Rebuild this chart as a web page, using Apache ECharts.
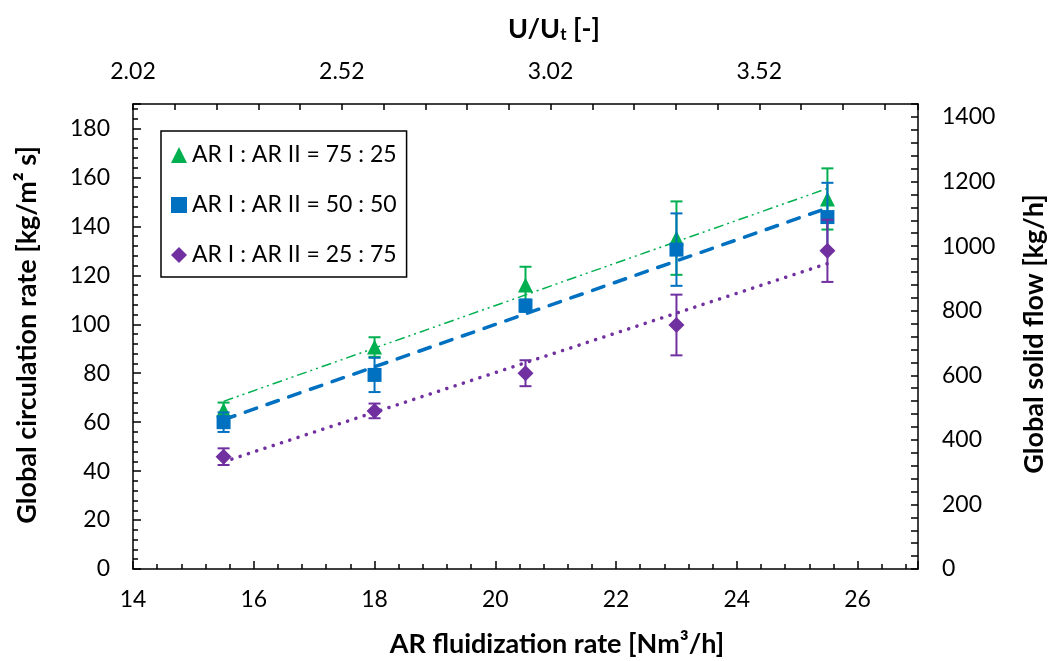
<!DOCTYPE html>
<html>
<head>
<meta charset="utf-8">
<script src="https://cdn.jsdelivr.net/npm/echarts@6/dist/echarts.min.js"></script>
<style>
  html, body { margin: 0; padding: 0; background: #fff; }
  #chart { width: 1056px; height: 661px; }
</style>
</head>
<body>
<div id="chart"></div>
<script>
// AR fluidization rate [Nm3/h] at which each point was measured
const flowRate = [15.5, 18, 20.5, 23, 25.5];

// Global circulation rate [kg/m2 s] and its error for each AR I : AR II ratio
const rate7525 = [65, 90.7, 116, 135.2, 151.2];
const err7525  = [3, 4, 7.5, 15, 12.5];
const rate5050 = [60, 79.3, 107.6, 130.5, 143.8];
const err5050  = [4, 7, 2.5, 14.8, 14];
const rate2575 = [45.9, 64.6, 80, 99.7, 130];
const err2575  = [3.4, 3, 5.3, 12.4, 12.7];

// Linear trend lines (start / end values at the first and last flow rate)
const trendX    = [15.5, 25.5];
const trend7525 = [68.5, 155.5];
const trend5050 = [61, 147.5];
const trend2575 = [43.8, 124.8];

// Series names
const seriesNames = ['AR I : AR II = 75 : 25', 'AR I : AR II = 50 : 50', 'AR I : AR II = 25 : 75'];

// Axis ranges
const flowMin = 14, flowMax = 27;
const rateMin = 0, rateMax = 190;
const solidMin = 0, solidMax = 1440;
const ratioStart = 2.02, ratioEnd = 3.90; // U/Ut at the left and right edge

const FONT = 'Lato';
const TITLE_FONT = 'bold 27px ' + FONT;
const green = '#00B050', blue = '#0070C0', purple = '#7030A0';

const chart = echarts.init(document.getElementById('chart'), null, { renderer: 'canvas' });

function pairs(xs, ys) { return xs.map((x, i) => [x, ys[i]]); }
function errData(ys, es) { return flowRate.map((x, i) => [x, ys[i] - es[i], ys[i] + es[i]]); }

function errorBars(name, color, ys, es, z) {
  return {
    type: 'custom',
    name: name + ' error',
    xAxisIndex: 0, yAxisIndex: 0,
    z: z,
    silent: true,
    data: errData(ys, es),
    renderItem: function (params, api) {
      const x = api.value(0);
      const lo = api.coord([x, api.value(1)]);
      const hi = api.coord([x, api.value(2)]);
      const cap = 6;
      const style = { stroke: color, lineWidth: 2, fill: null };
      return {
        type: 'group',
        children: [
          { type: 'line', shape: { x1: lo[0], y1: lo[1], x2: hi[0], y2: hi[1] }, style: style },
          { type: 'line', shape: { x1: lo[0] - cap, y1: lo[1], x2: lo[0] + cap, y2: lo[1] }, style: style },
          { type: 'line', shape: { x1: hi[0] - cap, y1: hi[1], x2: hi[0] + cap, y2: hi[1] }, style: style }
        ]
      };
    }
  };
}

function trend(color, ys, lineStyle) {
  return {
    type: 'line',
    xAxisIndex: 0, yAxisIndex: 0,
    data: pairs(trendX, ys),
    symbol: 'none',
    silent: true,
    z: 2,
    lineStyle: Object.assign({ color: color }, lineStyle)
  };
}

function markers(name, color, ys, symbol, size, z) {
  return {
    type: 'scatter',
    name: name,
    xAxisIndex: 0, yAxisIndex: 0,
    data: pairs(flowRate, ys),
    symbol: symbol,
    symbolSize: size,
    z: z,
    itemStyle: { color: color, opacity: 1 }
  };
}

const axisLineStyle = { show: true, onZero: false, lineStyle: { color: '#000', width: 1.5 } };
const labelStyle = { color: '#000', fontFamily: FONT, fontSize: 23 };

const option = {
  animation: false,
  backgroundColor: '#fff',
  grid: { left: 133, right: 138, top: 104, bottom: 92, containLabel: false },
  xAxis: [
    { // bottom: AR fluidization rate, major ticks
      type: 'value', position: 'bottom', min: flowMin, max: flowMax, interval: 2,
      axisLine: axisLineStyle,
      axisTick: { show: true, inside: true, length: 8, lineStyle: { color: '#000', width: 1.5 } },
      axisLabel: Object.assign({ margin: 19, formatter: v => (v % 2 === 0 ? String(v) : '') }, labelStyle),
      splitLine: { show: false }
    },
    { // top: U/Ut, offset from the left-edge value
      type: 'value', position: 'top', min: 0, max: +(ratioEnd - ratioStart).toFixed(2), interval: 0.1,
      axisLine: axisLineStyle,
      axisTick: { show: true, inside: true, length: 6, lineStyle: { color: '#000', width: 1.5 } },
      axisLabel: Object.assign({
        margin: 21,
        formatter: v => (Math.round(v * 10) % 5 === 0 ? (v + ratioStart).toFixed(2) : '')
      }, labelStyle),
      splitLine: { show: false }
    },
    { // bottom minor ticks
      type: 'value', position: 'bottom', min: flowMin, max: flowMax, interval: 0.4,
      axisLine: { show: false },
      axisTick: { show: true, inside: true, length: 5, lineStyle: { color: '#000', width: 1.5 } },
      axisLabel: { show: false },
      splitLine: { show: false }
    }
  ],
  yAxis: [
    { // left: global circulation rate, major ticks
      type: 'value', position: 'left', min: rateMin, max: rateMax, interval: 20,
      axisLine: axisLineStyle,
      axisTick: { show: true, inside: true, length: 8, lineStyle: { color: '#000', width: 1.5 } },
      axisLabel: Object.assign({ margin: 23, formatter: v => (v % 20 === 0 ? String(v) : '') }, labelStyle),
      splitLine: { show: false }
    },
    { // right: global solid flow
      type: 'value', position: 'right', min: solidMin, max: solidMax, interval: 40,
      axisLine: axisLineStyle,
      axisTick: { show: true, inside: true, length: 7, lineStyle: { color: '#000', width: 1.5 } },
      axisLabel: Object.assign({ margin: 24, formatter: v => (v % 200 === 0 ? String(v) : '') }, labelStyle),
      splitLine: { show: false }
    },
    { // left minor ticks
      type: 'value', position: 'left', min: rateMin, max: rateMax, interval: 4,
      axisLine: { show: false },
      axisTick: { show: true, inside: true, length: 5, lineStyle: { color: '#000', width: 1.5 } },
      axisLabel: { show: false },
      splitLine: { show: false }
    }
  ],
  legend: {
    orient: 'vertical',
    left: 161, top: 131,
    padding: [12, 10, 10, 10],
    borderColor: '#000', borderWidth: 1.5,
    backgroundColor: '#fff',
    itemGap: 26, itemWidth: 16, itemHeight: 16,
    textStyle: { color: '#000', fontFamily: FONT, fontSize: 23, lineHeight: 24 },
    data: [
      { name: seriesNames[0], icon: 'triangle' },
      { name: seriesNames[1], icon: 'rect' },
      { name: seriesNames[2], icon: 'diamond' }
    ]
  },
  graphic: [
    {
      type: 'text', x: 554, y: 29,
      style: {
        text: 'U/U{sub|t} [-]',
        fill: '#000', font: TITLE_FONT, align: 'center', verticalAlign: 'middle',
        rich: { sub: { fontSize: 17, fontWeight: 'bold', fontFamily: FONT, verticalAlign: 'bottom', padding: [12, 0, 0, 0] } }
      }
    },
    {
      type: 'text', x: 557, y: 644,
      style: { text: 'AR fluidization rate [Nm³/h]', fill: '#000', font: TITLE_FONT, align: 'center', verticalAlign: 'middle' }
    },
    {
      type: 'text', x: 27, y: 335, rotation: Math.PI / 2,
      style: { text: 'Global circulation rate [kg/m² s]', fill: '#000', font: TITLE_FONT, align: 'center', verticalAlign: 'middle' }
    },
    {
      type: 'text', x: 1034, y: 334, rotation: Math.PI / 2,
      style: { text: 'Global solid flow [kg/h]', fill: '#000', font: TITLE_FONT, align: 'center', verticalAlign: 'middle' }
    }
  ],
  series: [
    trend(green, trend7525, { width: 1.5, type: [10, 4, 2, 4, 2, 4] }),
    trend(blue, trend5050, { width: 3.5, type: [12, 11], cap: 'round' }),
    trend(purple, trend2575, { width: 3.5, type: [0.1, 8.6], cap: 'round' }),
    errorBars(seriesNames[0], green, rate7525, err7525, 3),
    markers(seriesNames[0], green, rate7525, 'triangle', 15, 3),
    errorBars(seriesNames[1], blue, rate5050, err5050, 4),
    markers(seriesNames[1], blue, rate5050, 'rect', 14, 4),
    errorBars(seriesNames[2], purple, rate2575, err2575, 5),
    markers(seriesNames[2], purple, rate2575, 'diamond', 16, 5)
  ]
};

chart.setOption(option);
</script>
</body>
</html>
